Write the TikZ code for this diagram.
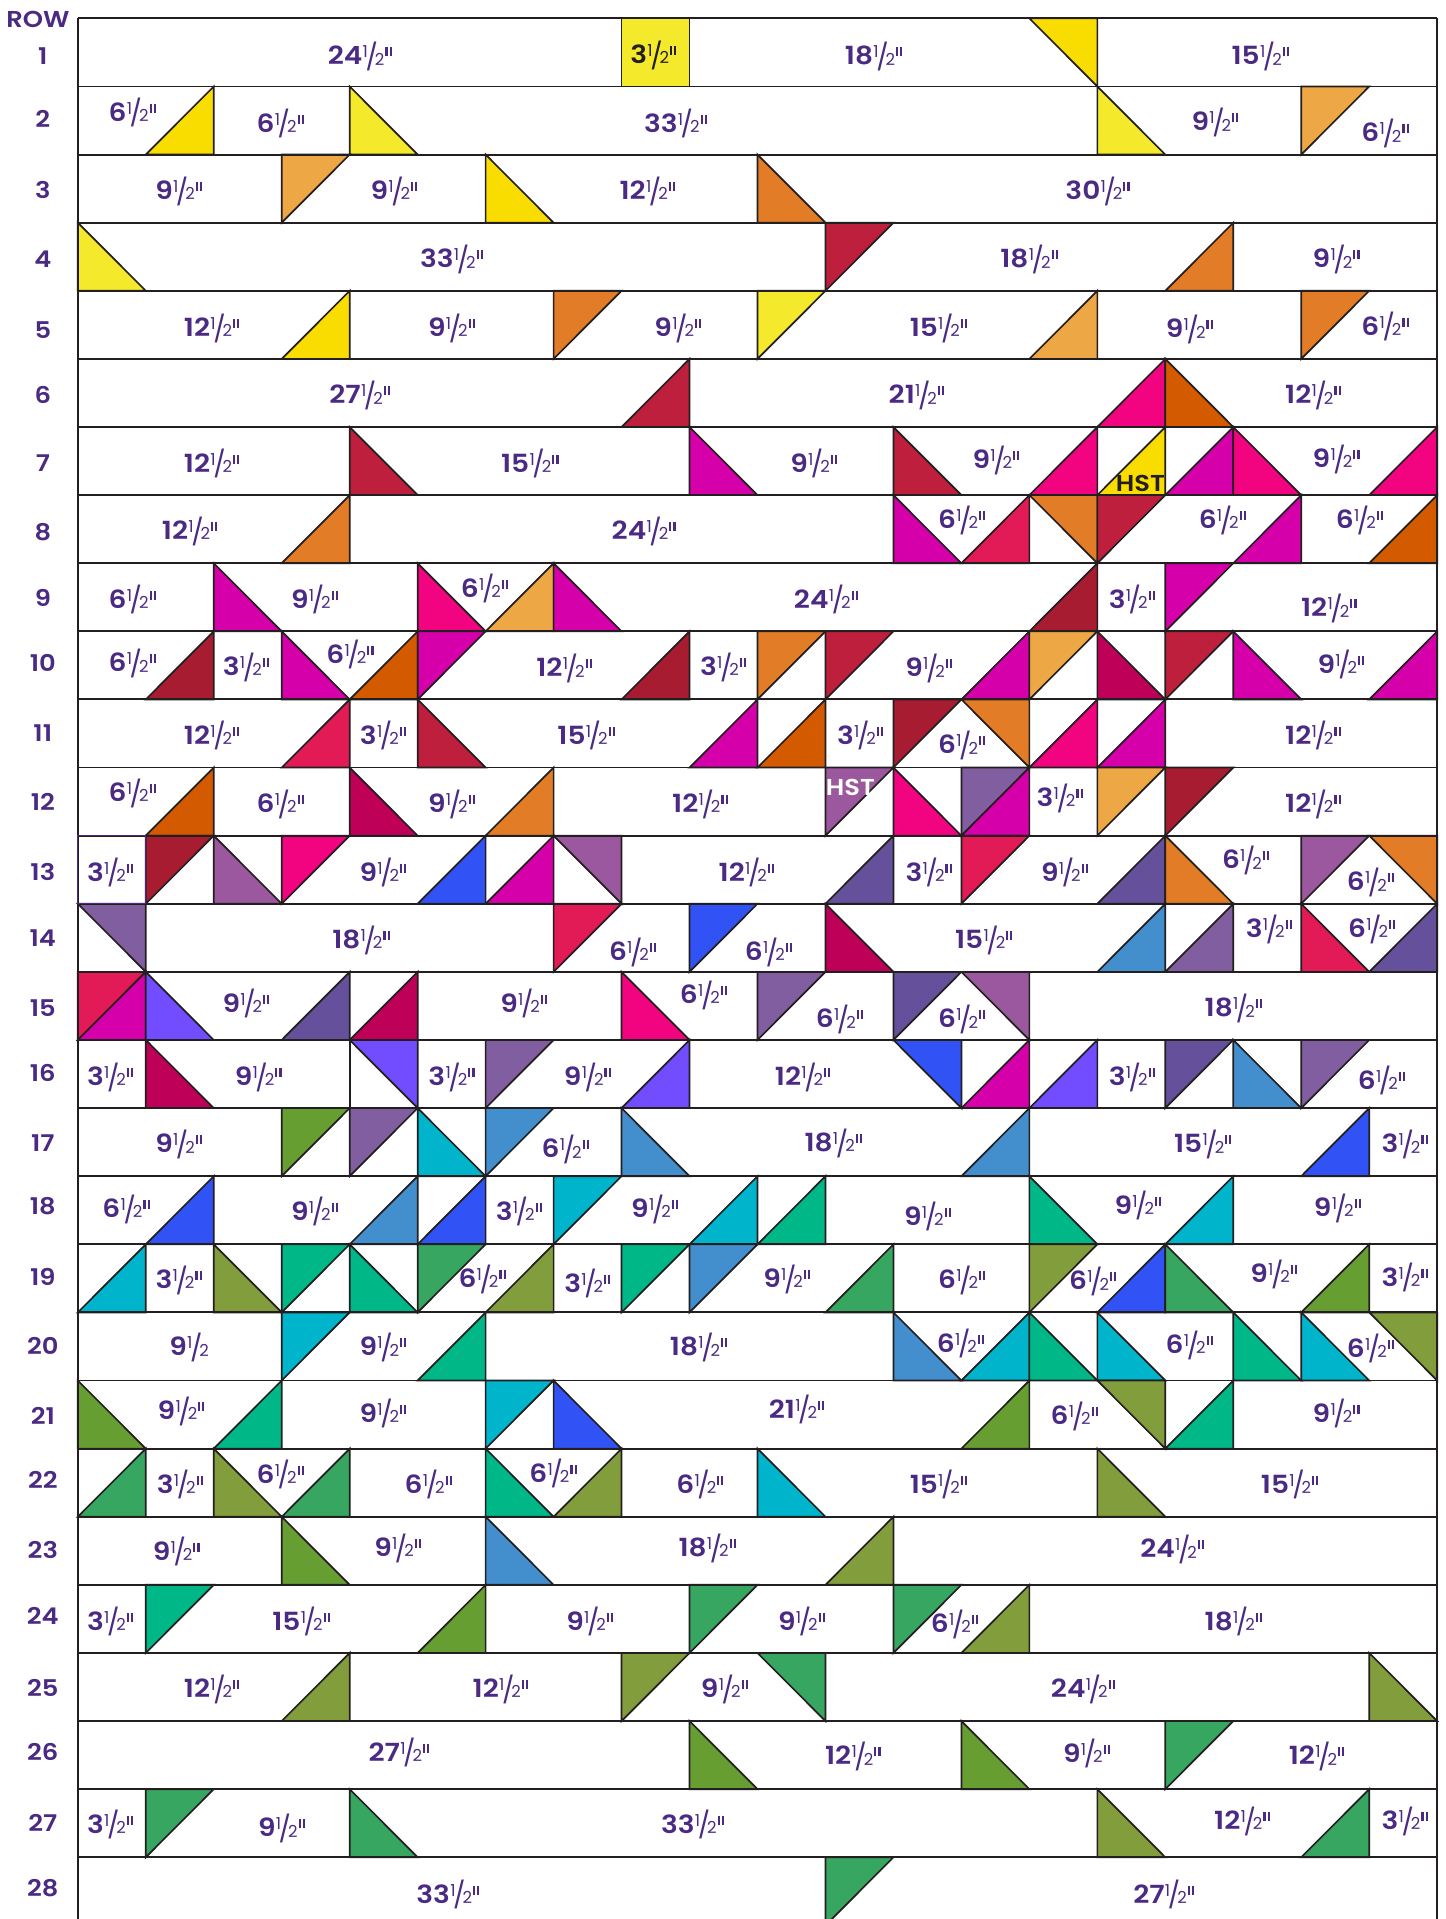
\documentclass[tikz,border=0pt]{standalone}
\usepackage{fontspec}
\setmainfont{Poppins}[BoldFont={Poppins SemiBold},BoldFeatures={FakeStretch=1.12}]
\newfontfamily\thinf{Poppins}
\definecolor{ink}{HTML}{231F20}
\definecolor{txt}{HTML}{4B2A84}
\definecolor{yel}{HTML}{F4E92B}
\definecolor{gld}{HTML}{F9DC00}
\definecolor{lor}{HTML}{EEA745}
\definecolor{org}{HTML}{E27C26}
\definecolor{dor}{HTML}{D45A00}
\definecolor{cri}{HTML}{BE1F3D}
\definecolor{dcr}{HTML}{A81C32}
\definecolor{cpk}{HTML}{E21B57}
\definecolor{pnk}{HTML}{F2037F}
\definecolor{mag}{HTML}{D600AA}
\definecolor{ras}{HTML}{BE0059}
\definecolor{pur}{HTML}{9B589E}
\definecolor{vio}{HTML}{805EA0}
\definecolor{ind}{HTML}{65509B}
\definecolor{blu}{HTML}{3153F5}
\definecolor{bvi}{HTML}{714DFF}
\definecolor{stl}{HTML}{438FCE}
\definecolor{tea}{HTML}{00B4CC}
\definecolor{gtl}{HTML}{00B787}
\definecolor{grn}{HTML}{37A660}
\definecolor{olv}{HTML}{829E3C}
\definecolor{grs}{HTML}{679E32}
\newcounter{nn}
\newcommand{\hf}{{\kern0.3pt\thinf\mdseries\fontsize{16.5}{16.5}\selectfont\raisebox{7pt}{1}\kern-2.4pt\raisebox{-1.6pt}{\fontsize{26}{26}\selectfont /}\kern-3pt\raisebox{-0.3pt}{2}\kern1pt}}
\newcommand{\inm}{\raisebox{8.5pt}{\rule{2.1pt}{9pt}\kern2pt\rule{2.1pt}{9pt}}}
\newcommand{\lb}[3]{\stepcounter{nn}\node[lbl] (t\arabic{nn}) at (#1,#2) {#3\hf\inm};}
\newcommand{\rn}[2]{\stepcounter{nn}\node[rnum] (t\arabic{nn}) at (35,#1) {#2};}
\newcommand{\cX}[1]{{63.6+55.55*#1}}
\newcommand{\cY}[1]{{15+55.65*(#1-1)}}
\newcommand{\tTL}[3]{\path[tri,fill=#3] (\cX{#2},\cY{#1}) -- ++(55.55,0) -- ++(-55.55,55.65) -- cycle;}
\newcommand{\tTR}[3]{\path[tri,fill=#3] (\cX{#2},\cY{#1}) -- ++(55.55,0) -- ++(0,55.65) -- cycle;}
\newcommand{\tBL}[3]{\path[tri,fill=#3] (\cX{#2},\cY{#1}) -- ++(55.55,55.65) -- ++(-55.55,0) -- cycle;}
\newcommand{\tBR}[3]{\path[tri,fill=#3] (\cX{#2},\cY{#1}) ++(55.55,0) -- ++(0,55.65) -- ++(-55.55,0) -- cycle;}
\tikzset{
 tri/.style={draw=ink,line width=1.7pt,line join=miter,miter limit=6},
 rowline/.style={draw=ink,line width=1.9pt},
 edgeline/.style={draw=ink,line width=1.4pt},
 lbl/.style={font=\bfseries\fontsize{25}{25}\selectfont,text=txt,inner sep=0pt,text height=17pt,text depth=0pt},
 rnum/.style={font=\bfseries\fontsize{23}{23}\selectfont,text=txt,inner sep=0pt,text height=16pt,text depth=0pt},
 hst/.style={font=\bfseries\fontsize{23}{23}\selectfont,inner sep=0pt}
}
\begin{document}
\begin{tikzpicture}[x=1.22354pt,y=-1.22385pt]
\useasboundingbox (0,0) rectangle (1181,1568);
\clip (0,0) rectangle (1181,1568);
\fill[white] (0,0) rectangle (1181,1568);
% row 1
\path[tri,fill=yel] (\cX{8},\cY{1}) rectangle ++(55.55,55.65);
\tTR{1}{14}{gld}
% row 2
\tBR{2}{1}{gld} \tBL{2}{4}{yel} \tBL{2}{15}{yel} \tTL{2}{18}{lor}
% row 3
\tTL{3}{3}{lor} \tBL{3}{6}{gld} \tBL{3}{10}{org}
% row 4
\tBL{4}{0}{yel} \tTL{4}{11}{cri} \tBR{4}{16}{org}
% row 5
\tBR{5}{3}{gld} \tTL{5}{7}{org} \tTL{5}{10}{yel} \tBR{5}{14}{lor} \tTL{5}{18}{org}
% row 6
\tBR{6}{8}{cri} \tBR{6}{15}{pnk} \tBL{6}{16}{dor}
% row 7
\tBL{7}{4}{cri} \tBL{7}{9}{mag} \tBL{7}{12}{cri} \tBR{7}{14}{pnk} \tBR{7}{15}{gld} \tBR{7}{16}{mag} \tBL{7}{17}{pnk} \tBR{7}{19}{pnk}
% row 8
\tBR{8}{3}{org} \tBL{8}{12}{mag} \tBR{8}{13}{cpk} \tTR{8}{14}{org} \tTL{8}{15}{cri} \tBR{8}{17}{mag} \tBR{8}{19}{dor}
% row 9
\tBL{9}{2}{mag} \tBL{9}{5}{pnk} \tBR{9}{6}{lor} \tBL{9}{7}{mag} \tBR{9}{14}{dcr} \tTL{9}{16}{mag}
% row 10
\tBR{10}{1}{dcr} \tBL{10}{3}{mag} \tBR{10}{4}{dor} \tTL{10}{5}{mag} \tBR{10}{8}{dcr} \tTL{10}{10}{org} \tTL{10}{11}{cri} \tBR{10}{13}{mag} \tTL{10}{14}{lor} \tBL{10}{15}{ras} \tTL{10}{16}{cri} \tBL{10}{17}{mag} \tBR{10}{19}{mag}
% row 11
\tBR{11}{3}{cpk} \tBL{11}{5}{cri} \tBR{11}{9}{mag} \tBR{11}{10}{dor} \tTL{11}{12}{dcr} \tTR{11}{13}{org} \tBR{11}{14}{pnk} \tBR{11}{15}{mag}
% row 12
\tBR{12}{1}{dor} \tBL{12}{4}{ras} \tBR{12}{6}{org} \tTL{12}{11}{pur} \tBL{12}{12}{pnk} \tTL{12}{13}{vio} \tBR{12}{13}{mag} \tTL{12}{15}{lor} \tTL{12}{16}{dcr}
% row 13
\tTL{13}{1}{dcr} \tBL{13}{2}{pur} \tTL{13}{3}{pnk} \tBR{13}{5}{blu} \tBR{13}{6}{mag} \tTR{13}{7}{pur} \tBR{13}{11}{ind} \tTL{13}{13}{cpk} \tBR{13}{15}{ind} \tBL{13}{16}{org} \tTL{13}{18}{pur} \tTR{13}{19}{org}
% row 14
\tTR{14}{0}{vio} \tTL{14}{7}{cpk} \tTL{14}{9}{blu} \tBL{14}{11}{ras} \tBR{14}{15}{stl} \tBR{14}{16}{vio} \tBL{14}{18}{cpk} \tBR{14}{19}{ind}
% row 15
\tTL{15}{0}{cpk} \tBR{15}{0}{mag} \tBL{15}{1}{bvi} \tBR{15}{3}{ind} \tBR{15}{4}{ras} \tBL{15}{8}{pnk} \tTL{15}{10}{vio} \tTL{15}{12}{ind} \tTR{15}{13}{pur}
% row 16
\tBL{16}{1}{ras} \tTR{16}{4}{bvi} \tTL{16}{6}{vio} \tBR{16}{8}{bvi} \tTR{16}{12}{blu} \tBR{16}{13}{mag} \tBR{16}{14}{bvi} \tTL{16}{16}{ind} \tBL{16}{17}{stl} \tTL{16}{18}{vio}
\path[tri] (\cX{4},\cY{16}) -- (\cX{4},\cY{17});
% row 17
\tTL{17}{3}{grs} \tTL{17}{4}{vio} \tBL{17}{5}{tea} \tTL{17}{6}{stl} \tBL{17}{8}{stl} \tBR{17}{13}{stl} \tBR{17}{18}{blu}
% row 18
\tBR{18}{1}{blu} \tBR{18}{4}{stl} \tBR{18}{5}{blu} \tTL{18}{7}{tea} \tBR{18}{9}{tea} \tBR{18}{10}{gtl} \tBL{18}{14}{gtl} \tBR{18}{16}{tea}
% row 19
\tBR{19}{0}{tea} \tBL{19}{2}{olv} \tTL{19}{3}{gtl} \tBL{19}{4}{gtl} \tTL{19}{5}{grn} \tBR{19}{6}{olv} \tTL{19}{8}{gtl} \tTL{19}{9}{stl} \tBR{19}{11}{grn} \tTL{19}{14}{olv} \tBR{19}{15}{blu} \tBL{19}{16}{grn} \tBR{19}{18}{grs}
% row 20
\tTL{20}{3}{tea} \tBR{20}{5}{gtl} \tBL{20}{12}{stl} \tBR{20}{13}{tea} \tBL{20}{14}{gtl} \tBL{20}{15}{tea} \tBL{20}{17}{gtl} \tBL{20}{18}{tea} \tTR{20}{19}{olv}
% row 21
\tBL{21}{0}{grs} \tBR{21}{2}{gtl} \tTL{21}{6}{tea} \tBL{21}{7}{blu} \tBR{21}{13}{grs} \tTR{21}{15}{olv} \tBR{21}{16}{gtl}
% row 22
\tBR{22}{0}{grn} \tBL{22}{2}{olv} \tBR{22}{3}{grn} \tBL{22}{6}{gtl} \tBR{22}{7}{olv} \tBL{22}{10}{tea} \tBL{22}{15}{olv}
% row 23
\tBL{23}{3}{grs} \tBL{23}{6}{stl} \tBR{23}{11}{olv}
% row 24
\tTL{24}{1}{gtl} \tBR{24}{5}{grs} \tTL{24}{9}{grn} \tTL{24}{12}{grn} \tBR{24}{13}{olv}
% row 25
\tBR{25}{3}{olv} \tTL{25}{8}{olv} \tTR{25}{10}{grn} \tBL{25}{19}{olv}
% row 26
\tBL{26}{9}{grs} \tBL{26}{13}{grs} \tTL{26}{16}{grn}
% row 27
\tTL{27}{1}{grn} \tBL{27}{4}{grn} \tBL{27}{15}{olv} \tBR{27}{18}{grn}
% row 28
\tTL{28}{11}{grn}
% row lines and outer edges
\foreach \r in {1,...,28} \path[rowline] (\cX{0},\cY{\r}) -- (\cX{20},\cY{\r});
\path[edgeline] (\cX{0},\cY{1}) -- (\cX{0},1568);
\path[edgeline] (\cX{20},\cY{1}) -- (\cX{20},1568);
\path[draw=txt,line width=1.3pt] (\cX{0},\cY{13}) rectangle ++(55.55,55.65);
% row numbers
\stepcounter{nn}\node[rnum,font=\bfseries\fontsize{23}{23}\selectfont] (head) at (31,16) {ROW};
\rn{46}{1}\rn{98}{2}\rn{156}{3}\rn{212}{4}\rn{270}{5}\rn{323}{6}\rn{379}{7}\rn{435}{8}\rn{489}{9}\rn{542}{10}\rn{599}{11}\rn{656}{12}\rn{713}{13}\rn{767}{14}\rn{824}{15}\rn{877}{16}\rn{934}{17}\rn{986}{18}\rn{1044}{19}\rn{1100}{20}\rn{1157}{21}\rn{1210}{22}\rn{1267}{23}\rn{1321}{24}\rn{1380}{25}\rn{1432}{26}\rn{1490}{27}\rn{1543}{28}
% labels
\lb{294}{46}{24}\node[lbl,text=ink] (dark1) at (534,45) {3\hf\inm};\lb{714}{46}{18}\lb{1030}{46}{15}
\lb{108}{92}{6}\lb{229}{101}{6}\lb{552}{101}{33}\lb{993}{100}{9}\lb{1132}{109}{6}
\lb{146}{156}{9}\lb{322}{156}{9}\lb{529}{156}{12}\lb{897}{156}{30}
\lb{369}{212}{33}\lb{841}{212}{18}\lb{1092}{212}{9}
\lb{173}{268}{12}\lb{369}{268}{9}\lb{554}{268}{9}\lb{767}{268}{15}\lb{972}{269}{9}\lb{1132}{267}{6}
\lb{294}{323}{27}\lb{749}{323}{21}\lb{1073}{323}{12}
\lb{173}{379}{12}\lb{433}{379}{15}\lb{665}{379}{9}\lb{814}{376}{9}\lb{1092}{375}{9}
\lb{155}{434}{12}\lb{526}{434}{24}\lb{786}{425}{6}\lb{999}{425}{6}\lb{1111}{425}{6}
\lb{108}{490}{6}\lb{257}{490}{9}\lb{396}{481}{6}\lb{675}{490}{24}\lb{925}{490}{3}\lb{1086}{497}{12}
\lb{108}{542}{6}\lb{201}{545}{3}\lb{286}{535}{6}\lb{461}{546}{12}\lb{591}{545}{3}\lb{759}{546}{9}\lb{1096}{543}{9}
\lb{173}{601}{12}\lb{313}{601}{3}\lb{479}{601}{15}\lb{703}{601}{3}\lb{786}{609}{6}\lb{1073}{601}{12}
\lb{108}{648}{6}\lb{229}{657}{6}\lb{369}{657}{9}\lb{572}{657}{12}\lb{866}{652}{3}\lb{1073}{657}{12}
\lb{90}{713}{3}\lb{313}{713}{9}\lb{610}{713}{12}\lb{759}{713}{3}\lb{870}{713}{9}\lb{1018}{703}{6}\lb{1120}{721}{6}
\lb{295}{768}{18}\lb{517}{778}{6}\lb{628}{778}{6}\lb{804}{768}{15}\lb{1037}{759}{3}\lb{1121}{759}{6}
\lb{201}{820}{9}\lb{428}{820}{9}\lb{575}{813}{6}\lb{686}{833}{6}\lb{786}{833}{6}\lb{1008}{824}{18}
\lb{90}{880}{3}\lb{211}{880}{9}\lb{369}{880}{3}\lb{480}{880}{9}\lb{656}{880}{12}\lb{925}{880}{3}\lb{1129}{883}{6}
\lb{146}{935}{9}\lb{462}{939}{6}\lb{681}{934}{18}\lb{983}{935}{15}\lb{1148}{935}{3}
\lb{103}{988}{6}\lb{257}{990}{9}\lb{424}{990}{3}\lb{535}{988}{9}\lb{758}{994}{9}\lb{930}{985}{9}\lb{1093}{987}{9}
\lb{146}{1046}{3}\lb{394}{1045}{6}\lb{480}{1049}{3}\lb{643}{1045}{9}\lb{786}{1046}{6}\lb{893}{1047}{6}\lb{1041}{1041}{9}\lb{1148}{1044}{3}
\node[lbl] (nine) at (155,1101) {9\hf};\lb{313}{1101}{9}\lb{571}{1101}{18}\lb{785}{1098}{6}\lb{972}{1099}{6}\lb{1120}{1102}{6}
\lb{148}{1153}{9}\lb{313}{1155}{9}\lb{651}{1152}{21}\lb{878}{1157}{6}\lb{1092}{1155}{9}
\lb{147}{1213}{3}\lb{229}{1205}{6}\lb{350}{1213}{6}\lb{452}{1204}{6}\lb{572}{1213}{6}\lb{767}{1213}{15}\lb{1054}{1213}{15}
\lb{144}{1268}{9}\lb{325}{1265}{9}\lb{578}{1265}{18}\lb{958}{1266}{24}
\lb{90}{1325}{3}\lb{246}{1325}{15}\lb{482}{1325}{9}\lb{655}{1325}{9}\lb{780}{1327}{6}\lb{1008}{1325}{18}
\lb{173}{1380}{12}\lb{409}{1380}{12}\lb{592}{1380}{9}\lb{885}{1380}{24}
\lb{326}{1432}{27}\lb{697}{1435}{12}\lb{888}{1433}{9}\lb{1076}{1435}{12}
\lb{90}{1491}{3}\lb{230}{1494}{9}\lb{566}{1491}{33}\lb{1015}{1488}{12}\lb{1148}{1488}{3}
\lb{366}{1548}{33}\lb{951}{1548}{27}
\node[hst,text=ink] (hsta) at (932,395) {HST};
\node[hst,text=white] (hstb) at (695,643) {HST};
\end{tikzpicture}
\end{document}
